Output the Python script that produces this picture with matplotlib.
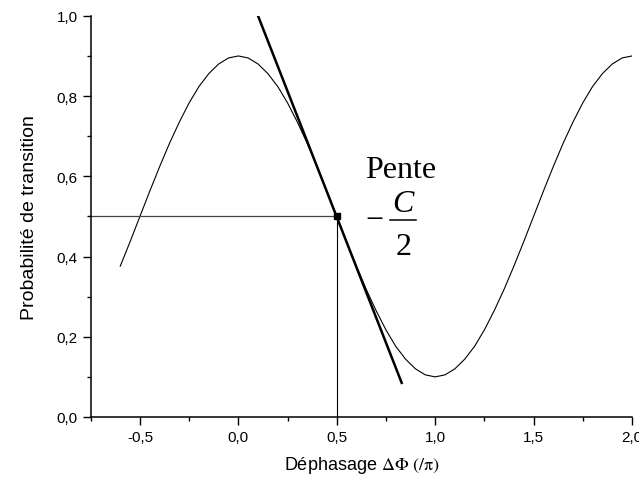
import numpy as np
import matplotlib.pyplot as plt
from matplotlib.ticker import MultipleLocator

plt.rcParams['font.family'] = ['Liberation Sans', 'DejaVu Sans']
plt.rcParams['mathtext.fontset'] = 'stix'

# transition probability (step 0.05 in dphi/pi)
phase = [-0.60, -0.55, -0.50, -0.45, -0.40, -0.35, -0.30, -0.25, -0.20, -0.15,
         -0.10, -0.05, 0.00, 0.05, 0.10, 0.15, 0.20, 0.25, 0.30, 0.35,
         0.40, 0.45, 0.50, 0.55, 0.60, 0.65, 0.70, 0.75, 0.80, 0.85,
         0.90, 0.95, 1.00, 1.05, 1.10, 1.15, 1.20, 1.25, 1.30, 1.35,
         1.40, 1.45, 1.50, 1.55, 1.60, 1.65, 1.70, 1.75, 1.80, 1.85,
         1.90, 1.95, 2.00]
proba = [0.376, 0.437, 0.500, 0.563, 0.624, 0.682, 0.735, 0.783, 0.824, 0.856,
         0.880, 0.895, 0.900, 0.895, 0.880, 0.856, 0.824, 0.783, 0.735, 0.682,
         0.624, 0.563, 0.500, 0.437, 0.376, 0.318, 0.265, 0.217, 0.176, 0.144,
         0.120, 0.105, 0.100, 0.105, 0.120, 0.144, 0.176, 0.217, 0.265, 0.318,
         0.376, 0.437, 0.500, 0.563, 0.624, 0.682, 0.735, 0.783, 0.824, 0.856,
         0.880, 0.895, 0.900]

# tangent at the working point
tangent_x = [0.10, 0.83]
tangent_y = [1.00, 0.085]
point_x, point_y = 0.5, 0.5

xticks = [-0.5, 0.0, 0.5, 1.0, 1.5, 2.0]
xlabels = ['-0,5', '0,0', '0,5', '1,0', '1,5', '2,0']
yticks = [0.0, 0.2, 0.4, 0.6, 0.8, 1.0]
ylabels = ['0,0', '0,2', '0,4', '0,6', '0,8', '1,0']

fig = plt.figure(figsize=(6.39, 4.81), dpi=100)
ax = fig.add_axes([0.142, 0.131, 0.847, 0.834])

ax.plot(phase, proba, color='black', lw=0.8)
ax.plot(tangent_x, tangent_y, color='black', lw=1.8)
ax.plot([-0.75, point_x], [point_y, point_y], color='#444444', lw=0.9)
ax.plot([point_x, point_x], [0, point_y], color='black', lw=0.8)
ax.plot([point_x], [point_y], 's', color='black', ms=5)

# annotation "Pente -C/2", fraction built by hand
serif = 'Liberation Serif'
ax.text(0.645, 0.598, 'Pente', fontsize=23, family=serif, va='baseline')
ax.text(0.692, 0.491, '\u2212', fontsize=23, family=serif,
        ha='center', va='center')
ax.text(0.836, 0.533, 'C', fontsize=23, family=serif, style='italic',
        ha='center', va='center')
ax.plot([0.773, 0.905], [0.491, 0.491], color='black', lw=1.1)
ax.text(0.838, 0.426, '2', fontsize=23, family=serif,
        ha='center', va='center')

ax.set_xlim(-0.75, 2.0)
ax.set_ylim(0.0, 1.0)
ax.set_xticks(xticks)
ax.set_xticklabels(xlabels)
ax.set_yticks(yticks)
ax.set_yticklabels(ylabels)
ax.xaxis.set_minor_locator(MultipleLocator(0.25))
ax.yaxis.set_minor_locator(MultipleLocator(0.1))
ax.tick_params(which='major', direction='out', length=5.5, width=1,
               labelsize=11, pad=4)
ax.tick_params(which='minor', direction='out', length=3, width=1)
for s in ['top', 'right']:
    ax.spines[s].set_visible(False)
for s in ['left', 'bottom']:
    ax.spines[s].set_linewidth(1.1)

ax.set_xlabel(r'Déphasage $\Delta\Phi\ (/\mathrm{\pi})$', fontsize=13, labelpad=7)
ax.set_ylabel('Probabilité de transition', fontsize=14, labelpad=13)

fig.savefig('out.png', dpi=100)
